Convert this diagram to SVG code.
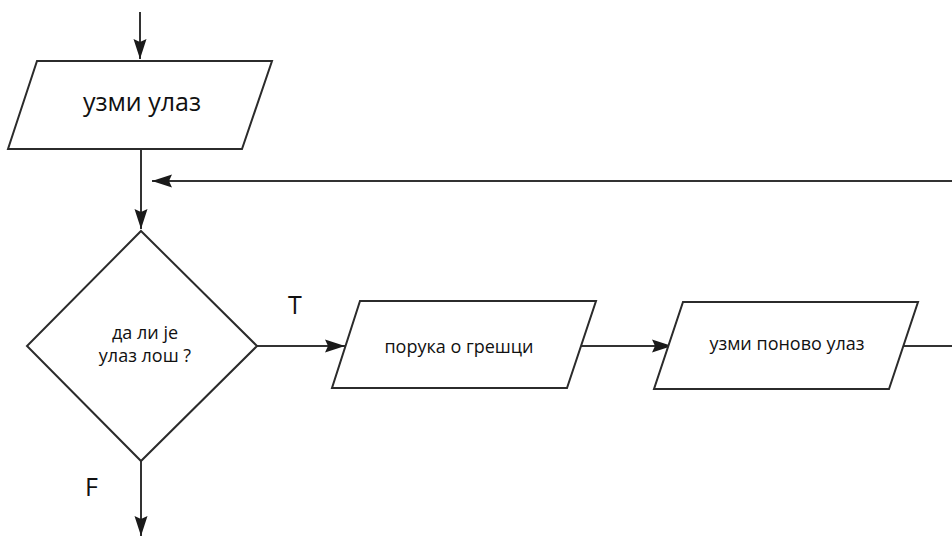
<svg xmlns="http://www.w3.org/2000/svg" width="952" height="536" viewBox="0 0 952 536">
<defs>
<marker id="ah" markerWidth="20" markerHeight="14" refX="20" refY="7" orient="auto" markerUnits="userSpaceOnUse">
<path d="M0,0.5 L20,7 L0,13.5 L3,7 Z" fill="#1a1a1a"/>
</marker>
<style>
.shape{fill:#fff;stroke:#2b2b2b;stroke-width:2}
.conn{fill:none;stroke:#333;stroke-width:2}
.t{font-family:"Open Sans","Noto Sans","Liberation Sans",sans-serif;fill:#111;text-anchor:middle}
.lbl{font-family:"Open Sans","Liberation Sans",Arial,sans-serif;fill:#111;font-size:25px}
</style>
</defs>
<rect width="952" height="536" fill="#fff"/>
<g id="connectors">
<line class="conn" x1="140" y1="12" x2="140" y2="59" marker-end="url(#ah)"/>
<line class="conn" x1="141" y1="149" x2="141" y2="229" marker-end="url(#ah)"/>
<line class="conn" x1="952" y1="181" x2="152" y2="181" marker-end="url(#ah)"/>
<line class="conn" x1="257" y1="346" x2="345" y2="346" marker-end="url(#ah)"/>
<line class="conn" x1="580" y1="346" x2="672" y2="346" marker-end="url(#ah)"/>
<line class="conn" x1="904" y1="346" x2="952" y2="346"/>
<line class="conn" x1="141" y1="461" x2="141" y2="536" marker-end="url(#ah)"/>
<text class="lbl" x="288" y="314">T</text>
<text class="lbl" x="85" y="496">F</text>
</g>
<g id="input1">
<polygon class="shape" points="37,61 272,61 242,149 8,149"/>
<text class="t" x="142" y="111" font-size="25">узми улаз</text>
</g>
<g id="decision">
<polygon class="shape" points="141,231 257,346 141,461 27,346"/>
<text class="t" x="145" y="339" font-size="18">да ли је</text>
<text class="t" x="145" y="362" font-size="18">улаз лош ?</text>
</g>
<g id="error">
<polygon class="shape" points="360,301 596,301 567,388 332,388"/>
<text class="t" x="459" y="353" font-size="18">порука о грешци</text>
</g>
<g id="input2">
<polygon class="shape" points="683,302 918,302 889,389 654,389"/>
<text class="t" x="787" y="350" font-size="18">узми поново улаз</text>
</g>
</svg>
